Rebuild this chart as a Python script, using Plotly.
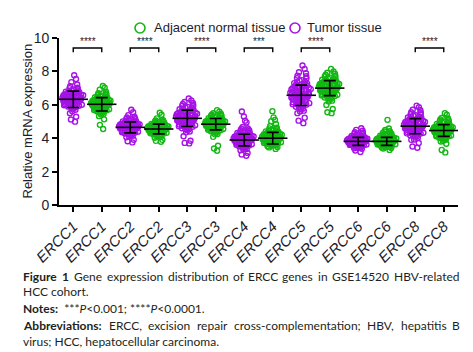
import plotly.graph_objects as go

genes = ["ERCC1", "ERCC2", "ERCC3", "ERCC4", "ERCC5", "ERCC6", "ERCC8"]
tick_labels = ["ERCC1", "ERCC1", "ERCC2", "ERCC2", "ERCC3", "ERCC3", "ERCC4", "ERCC4",
               "ERCC5", "ERCC5", "ERCC6", "ERCC6", "ERCC8", "ERCC8"]
groups = ["Tumor tissue", "Adjacent normal tissue"] * 7

ercc1_t = [4.99, 5.12, 5.28, 5.49, 5.61, 5.70, 5.77, 5.83, 5.89, 5.94, 5.98, 6.02, 6.07, 6.10, 6.14,
           6.18, 6.21, 6.25, 6.28, 6.31, 6.34, 6.38, 6.41, 6.43, 6.47, 6.50, 6.53, 6.57, 6.60, 6.64,
           6.68, 6.72, 6.77, 6.82, 6.88, 6.95, 7.02, 7.11, 7.22, 7.36, 7.55, 7.77,
           5.86, 5.90, 5.93, 5.97, 6.00, 6.03, 6.05, 6.08, 6.12, 6.15, 6.17, 6.20, 6.23, 6.26, 6.29,
           6.30, 6.32, 6.35, 6.37, 6.39, 6.42, 6.45, 6.46, 6.49, 6.52, 6.55, 6.58, 6.61, 6.63, 6.66,
           6.70, 6.74, 6.79, 6.85, 6.92, 7.00]
ercc1_n = [4.55, 4.80, 5.13, 5.32, 5.42, 5.49, 5.55, 5.61, 5.65, 5.69, 5.73, 5.77, 5.81, 5.84, 5.87,
           5.90, 5.93, 5.96, 5.99, 6.01, 6.04, 6.07, 6.09, 6.12, 6.15, 6.17, 6.20, 6.23, 6.26, 6.29,
           6.33, 6.37, 6.41, 6.45, 6.50, 6.55, 6.62, 6.69, 6.79, 6.91, 7.02, 7.13,
           5.45, 5.58, 5.63, 5.67, 5.71, 5.75, 5.79, 5.82, 5.86, 5.89, 5.92, 5.95, 5.97, 6.00, 6.02,
           6.03, 6.05, 6.06, 6.08, 6.10, 6.11, 6.13, 6.16, 6.18, 6.21, 6.24, 6.27, 6.30, 6.32, 6.35,
           6.39, 6.43, 6.48, 6.53, 6.60, 6.68]
ercc2_t = [3.75, 3.82, 3.91, 4.06, 4.15, 4.21, 4.26, 4.30, 4.34, 4.37, 4.41, 4.44, 4.47, 4.49, 4.52,
           4.54, 4.57, 4.59, 4.61, 4.64, 4.66, 4.68, 4.70, 4.72, 4.75, 4.77, 4.79, 4.82, 4.84, 4.87,
           4.90, 4.93, 4.96, 5.00, 5.04, 5.08, 5.14, 5.20, 5.28, 5.38, 5.55, 5.70,
           4.12, 4.20, 4.28, 4.32, 4.36, 4.39, 4.42, 4.45, 4.48, 4.50, 4.53, 4.55, 4.58, 4.60, 4.62,
           4.63, 4.65, 4.67, 4.69, 4.71, 4.73, 4.74, 4.76, 4.78, 4.80, 4.83, 4.85, 4.88, 4.91, 4.94,
           4.97, 5.01, 5.06, 5.11, 5.17, 5.24]
ercc2_n = [3.79, 3.84, 3.90, 4.03, 4.11, 4.16, 4.20, 4.24, 4.28, 4.31, 4.34, 4.36, 4.39, 4.41, 4.43,
           4.46, 4.48, 4.50, 4.52, 4.54, 4.56, 4.58, 4.60, 4.61, 4.63, 4.65, 4.67, 4.70, 4.72, 4.74,
           4.77, 4.79, 4.82, 4.85, 4.89, 4.93, 4.98, 5.03, 5.10, 5.19, 5.40, 5.52,
           4.08, 4.14, 4.22, 4.26, 4.29, 4.33, 4.35, 4.38, 4.40, 4.42, 4.44, 4.47, 4.49, 4.51, 4.53,
           4.55, 4.57, 4.59, 4.62, 4.64, 4.66, 4.68, 4.71, 4.73, 4.75, 4.78, 4.80, 4.83, 4.86, 4.90,
           4.95, 5.00, 5.06, 4.45, 4.57, 4.69]
ercc3_t = [3.69, 3.72, 3.85, 4.12, 4.35, 4.47, 4.56, 4.63, 4.69, 4.75, 4.80, 4.84, 4.89, 4.93, 4.97,
           5.01, 5.05, 5.08, 5.11, 5.15, 5.18, 5.21, 5.25, 5.28, 5.31, 5.34, 5.37, 5.41, 5.44, 5.48,
           5.52, 5.56, 5.60, 5.65, 5.70, 5.76, 5.83, 5.91, 6.00, 6.11, 6.26, 6.38,
           4.40, 4.52, 4.60, 4.67, 4.72, 4.77, 4.82, 4.87, 4.91, 4.95, 4.99, 5.03, 5.06, 5.10, 5.13,
           5.16, 5.20, 5.23, 5.26, 5.30, 5.33, 5.36, 5.39, 5.43, 5.46, 5.50, 5.54, 5.58, 5.62, 5.67,
           5.73, 5.80, 5.87, 5.95, 6.05, 6.17]
ercc3_n = [3.25, 3.38, 3.55, 4.08, 4.23, 4.32, 4.38, 4.44, 4.48, 4.52, 4.55, 4.59, 4.62, 4.65, 4.68,
           4.70, 4.73, 4.75, 4.78, 4.80, 4.83, 4.85, 4.87, 4.89, 4.91, 4.94, 4.96, 4.99, 5.01, 5.04,
           5.06, 5.10, 5.13, 5.16, 5.20, 5.24, 5.29, 5.34, 5.40, 5.49, 5.59, 5.68,
           4.25, 4.35, 4.42, 4.47, 4.51, 4.55, 4.58, 4.61, 4.64, 4.67, 4.70, 4.72, 4.74, 4.77, 4.79,
           4.81, 4.82, 4.84, 4.86, 4.88, 4.90, 4.92, 4.95, 4.97, 5.00, 5.02, 5.05, 5.08, 5.11, 5.15,
           5.19, 5.23, 5.28, 5.33, 5.39, 5.46]
ercc4_t = [2.95, 3.02, 3.12, 3.28, 3.36, 3.43, 3.48, 3.53, 3.57, 3.61, 3.64, 3.67, 3.70, 3.73, 3.76,
           3.79, 3.81, 3.84, 3.86, 3.89, 3.91, 3.94, 3.96, 3.98, 4.00, 4.03, 4.05, 4.08, 4.10, 4.13,
           4.16, 4.19, 4.23, 4.27, 4.31, 4.36, 4.41, 4.48, 4.57, 4.67, 4.95, 5.05, 5.30, 5.60,
           3.35, 3.45, 3.52, 3.57, 3.61, 3.65, 3.68, 3.71, 3.74, 3.77, 3.80, 3.82, 3.85, 3.87, 3.88,
           3.90, 3.92, 3.93, 3.95, 3.97, 3.99, 4.01, 4.04, 4.06, 4.09, 4.11, 4.14, 4.17, 4.21, 4.25,
           4.29, 4.34, 4.39, 4.45, 4.52, 4.60]
ercc4_n = [3.36, 3.45, 3.52, 3.57, 3.61, 3.65, 3.69, 3.72, 3.76, 3.79, 3.82, 3.84, 3.87, 3.89, 3.92,
           3.94, 3.96, 3.99, 4.01, 4.03, 4.05, 4.07, 4.10, 4.12, 4.14, 4.17, 4.19, 4.22, 4.25, 4.28,
           4.31, 4.35, 4.39, 4.43, 4.49, 4.55, 4.63, 4.73, 4.85, 5.02, 5.10, 5.25, 5.62,
           3.48, 3.55, 3.60, 3.64, 3.68, 3.71, 3.74, 3.77, 3.80, 3.83, 3.86, 3.88, 3.90, 3.93, 3.95,
           3.97, 3.99, 4.00, 4.02, 4.04, 4.06, 4.09, 4.11, 4.13, 4.16, 4.18, 4.21, 4.24, 4.27, 4.30,
           4.33, 4.37, 4.41, 4.46, 4.52, 4.59]
ercc5_t = [4.90, 5.05, 5.23, 5.50, 5.65, 5.77, 5.86, 5.93, 6.01, 6.07, 6.13, 6.18, 6.23, 6.28, 6.33,
           6.38, 6.42, 6.46, 6.50, 6.55, 6.59, 6.63, 6.67, 6.70, 6.74, 6.79, 6.83, 6.87, 6.92, 6.97,
           7.02, 7.07, 7.13, 7.20, 7.27, 7.36, 7.45, 7.57, 7.71, 7.89, 8.15, 8.35,
           5.60, 5.75, 5.88, 5.97, 6.04, 6.10, 6.16, 6.21, 6.26, 6.31, 6.35, 6.40, 6.44, 6.48, 6.52,
           6.56, 6.60, 6.64, 6.68, 6.72, 6.76, 6.80, 6.85, 6.89, 6.94, 6.99, 7.04, 7.10, 7.16, 7.23,
           7.30, 7.38, 7.48, 7.60, 7.75, 7.95]
ercc5_n = [5.50, 5.55, 5.75, 5.99, 6.20, 6.31, 6.40, 6.46, 6.52, 6.58, 6.62, 6.67, 6.71, 6.75, 6.78,
           6.82, 6.86, 6.89, 6.92, 6.95, 6.98, 7.01, 7.05, 7.07, 7.10, 7.13, 7.16, 7.19, 7.23, 7.26,
           7.30, 7.34, 7.38, 7.42, 7.47, 7.53, 7.59, 7.66, 7.75, 7.86, 7.99, 8.15,
           6.25, 6.36, 6.44, 6.50, 6.56, 6.60, 6.64, 6.69, 6.73, 6.77, 6.80, 6.84, 6.87, 6.90, 6.94,
           6.97, 7.00, 7.03, 7.06, 7.09, 7.12, 7.15, 7.18, 7.21, 7.25, 7.28, 7.32, 7.36, 7.40, 7.45,
           7.50, 7.56, 7.63, 7.71, 7.80, 7.92]
ercc6_t = [3.17, 3.26, 3.37, 3.43, 3.48, 3.51, 3.55, 3.57, 3.60, 3.62, 3.64, 3.67, 3.68, 3.70, 3.72,
           3.74, 3.76, 3.77, 3.79, 3.81, 3.82, 3.84, 3.85, 3.87, 3.89, 3.90, 3.92, 3.94, 3.96, 3.98,
           4.00, 4.03, 4.05, 4.08, 4.11, 4.15, 4.20, 4.26, 4.33, 4.45, 4.60,
           3.40, 3.46, 3.52, 3.56, 3.59, 3.62, 3.64, 3.66, 3.69, 3.71, 3.73, 3.75, 3.76, 3.78, 3.80,
           3.81, 3.83, 3.84, 3.86, 3.88, 3.89, 3.91, 3.93, 3.95, 3.97, 3.99, 4.01, 4.04, 4.07, 4.10,
           4.13, 4.17, 4.22, 4.28, 4.36, 4.50]
ercc6_n = [3.30, 3.38, 3.44, 3.48, 3.52, 3.55, 3.58, 3.60, 3.63, 3.65, 3.67, 3.69, 3.71, 3.72, 3.74,
           3.76, 3.78, 3.79, 3.81, 3.83, 3.84, 3.86, 3.87, 3.89, 3.91, 3.93, 3.94, 3.96, 3.99, 4.01,
           4.03, 4.06, 4.09, 4.12, 4.16, 4.21, 4.27, 4.35, 4.42, 4.50, 4.58, 5.10,
           3.41, 3.47, 3.51, 3.55, 3.59, 3.62, 3.64, 3.66, 3.68, 3.70, 3.72, 3.74, 3.75, 3.77, 3.79,
           3.80, 3.82, 3.84, 3.85, 3.87, 3.88, 3.90, 3.92, 3.94, 3.96, 3.98, 4.00, 4.02, 4.05, 4.08,
           4.11, 4.15, 4.19, 4.24, 4.31, 4.40]
ercc8_t = [3.43, 3.50, 3.71, 3.92, 4.03, 4.11, 4.18, 4.23, 4.29, 4.33, 4.37, 4.41, 4.45, 4.49, 4.52,
           4.56, 4.59, 4.62, 4.65, 4.68, 4.71, 4.74, 4.77, 4.80, 4.83, 4.86, 4.89, 4.92, 4.96, 4.99,
           5.03, 5.07, 5.11, 5.16, 5.21, 5.28, 5.35, 5.43, 5.54, 5.67, 5.85, 5.95,
           3.90, 4.05, 4.15, 4.22, 4.28, 4.33, 4.38, 4.42, 4.46, 4.50, 4.54, 4.57, 4.60, 4.63, 4.66,
           4.69, 4.72, 4.75, 4.78, 4.81, 4.84, 4.87, 4.90, 4.94, 4.97, 5.01, 5.05, 5.09, 5.13, 5.18,
           5.24, 5.30, 5.37, 5.45, 5.55, 5.70]
ercc8_n = [3.15, 3.30, 3.67, 3.83, 3.91, 3.98, 4.03, 4.08, 4.12, 4.16, 4.19, 4.22, 4.25, 4.28, 4.31,
           4.34, 4.36, 4.39, 4.41, 4.44, 4.46, 4.49, 4.51, 4.53, 4.55, 4.58, 4.60, 4.63, 4.65, 4.68,
           4.71, 4.74, 4.78, 4.82, 4.86, 4.91, 4.96, 5.03, 5.12, 5.22, 5.40, 5.50,
           3.80, 3.92, 4.00, 4.06, 4.11, 4.15, 4.19, 4.23, 4.26, 4.29, 4.32, 4.35, 4.37, 4.40, 4.42,
           4.44, 4.46, 4.48, 4.50, 4.52, 4.54, 4.57, 4.59, 4.62, 4.64, 4.67, 4.70, 4.73, 4.76, 4.80,
           4.84, 4.89, 4.94, 5.00, 5.08, 5.18]

series = [ercc1_t, ercc1_n, ercc2_t, ercc2_n, ercc3_t, ercc3_n, ercc4_t, ercc4_n,
          ercc5_t, ercc5_n, ercc6_t, ercc6_n, ercc8_t, ercc8_n]

means = [6.33, 6.03, 4.65, 4.55, 5.19, 4.84, 3.89, 4.00, 6.57, 7.00, 3.81, 3.81, 4.72, 4.46]
sds = [0.49, 0.40, 0.33, 0.29, 0.49, 0.34, 0.35, 0.35, 0.61, 0.45, 0.24, 0.24, 0.45, 0.35]

sig_labels = ["****", "****", "****", "***", "****", "", "****"]
legend_order = ["Adjacent normal tissue", "Tumor tissue"]

colors = {"Tumor tissue": "#A612E6", "Adjacent normal tissue": "#12B812"}
TEXT = "#1c1c2c"
FONT = "Liberation Sans, Arial"

# plot-area geometry (pixels)
W, H = 473, 352
PL, PR, PT, PB = 59, 15, 38, 147
PW, PH = W - PL - PR, H - PT - PB


def px_x(x):
    return (x - PL) / PW


def px_y(y):
    return (PT + PH - y) / PH


fig = go.Figure()
positions = list(range(len(series)))

for pos, vals, grp in zip(positions, series, groups):
    fig.add_trace(go.Box(
        x=[pos] * len(vals), y=vals, name=grp, showlegend=False,
        boxpoints="all", jitter=1.0, pointpos=0, width=0.8,
        fillcolor="rgba(0,0,0,0)", line=dict(color="rgba(0,0,0,0)", width=0),
        marker=dict(symbol="circle-open", size=5, color=colors[grp],
                    line=dict(width=1.4, color=colors[grp])),
        hoverinfo="y",
    ))

# mean +/- SD
fig.add_trace(go.Scatter(
    x=positions, y=means, mode="markers", showlegend=False,
    marker=dict(symbol="line-ew", size=21, line=dict(width=1.6, color="black")),
    error_y=dict(type="data", array=sds, visible=True, color="black", thickness=1.6, width=6),
))

# significance brackets
bracket_top = 9.4
bracket_drop = 0.25
for gi, lab in enumerate(sig_labels):
    if not lab:
        continue
    a, b = positions[2 * gi], positions[2 * gi + 1]
    fig.add_trace(go.Scatter(
        x=[a, a, b, b], y=[bracket_top - bracket_drop, bracket_top, bracket_top, bracket_top - bracket_drop],
        mode="lines", line=dict(color="black", width=1.4), showlegend=False, hoverinfo="skip"))
    fig.add_annotation(x=(a + b) / 2, y=bracket_top + 0.38, xref="x", yref="y", text=lab,
                       showarrow=False, yanchor="middle",
                       font=dict(size=10, color=TEXT, family=FONT))

# custom legend (open circles + labels)
legend_pos = {"Adjacent normal tissue": (140, 152), "Tumor tissue": (295, 305)}
legend_y = 28
for grp in legend_order:
    cx, tx = legend_pos[grp]
    fig.add_shape(type="circle", xref="paper", yref="paper",
                  xsizemode="pixel", ysizemode="pixel",
                  xanchor=px_x(cx), yanchor=px_y(legend_y), x0=-5, x1=5, y0=-5, y1=5,
                  line=dict(color=colors[grp], width=1.6), fillcolor="rgba(0,0,0,0)")
    fig.add_annotation(text=grp, xref="paper", yref="paper", x=px_x(tx), y=px_y(legend_y),
                       xanchor="left", yanchor="middle", showarrow=False,
                       font=dict(size=13, color=TEXT, family=FONT))

# y-axis title
fig.add_annotation(text="Relative mRNA expression", xref="paper", yref="paper",
                   x=px_x(27), y=0.5, xanchor="center", yanchor="middle", textangle=-90,
                   showarrow=False, font=dict(size=13, color=TEXT, family=FONT))

fig.update_layout(
    width=W, height=H, template="none",
    margin=dict(l=PL, r=PR, t=PT, b=PB),
    paper_bgcolor="white", plot_bgcolor="white",
    font=dict(family=FONT, color=TEXT, size=13),
    showlegend=False,
    xaxis=dict(range=[-0.5, 13.5], tickmode="array", tickvals=positions,
               ticktext=["<i>%s</i>" % t for t in tick_labels], tickangle=-45,
               showline=True, linecolor="black", linewidth=1.6, ticks="outside",
               ticklen=5, tickwidth=1.6, tickcolor="black", showgrid=False, zeroline=False,
               tickfont=dict(size=15, color=TEXT), automargin=False),
    yaxis=dict(range=[0, 10], tickmode="linear", tick0=0, dtick=2,
               showline=True, linecolor="black", linewidth=1.6, ticks="outside",
               ticklen=5, tickwidth=1.6, tickcolor="black", showgrid=False, zeroline=False,
               tickfont=dict(size=14, color=TEXT), automargin=False),
)

# ---------------- caption (justified lines laid out word by word) ----------------
cap_font = "Lato, Open Sans, sans-serif"
CAP_SIZE = 12
CAP_COLOR = "#231f20"
CAP_LEFT, CAP_RIGHT = 21, 458
WIDTH_SCALE = 1.0
MIN_GAP = 3.5

# approximate Lato advance widths (em)
_w = {c: 0.52 for c in "abcdeghknopquvxyz"}
_w.update({"a": 0.51, "c": 0.46, "e": 0.53, "f": 0.32, "i": 0.24, "j": 0.24, "l": 0.24,
           "m": 0.84, "r": 0.36, "s": 0.43, "t": 0.35, "w": 0.77, "z": 0.46,
           "b": 0.56, "d": 0.56, "h": 0.56, "n": 0.56, "o": 0.56, "p": 0.56, "q": 0.56, "u": 0.56})
_w.update({c: 0.66 for c in "ABCDEFGHIJKLMNOPQRSTUVWXYZ"})
_w.update({"E": 0.55, "F": 0.53, "I": 0.29, "H": 0.75, "B": 0.64, "S": 0.52, "V": 0.68,
           "G": 0.72, "C": 0.66, "R": 0.62})
_w.update({c: 0.60 for c in "0123456789"})
_w.update({".": 0.23, ",": 0.22, ";": 0.25, ":": 0.25, "-": 0.35})


def word_width(word, bold=False):
    return sum(_w.get(ch, 0.52) for ch in word) * CAP_SIZE * WIDTH_SCALE * (1.05 if bold else 1.0)


def add_text(txt, x_px, y_px, anchor="left"):
    fig.add_annotation(text=txt, xref="paper", yref="paper", x=px_x(x_px), y=px_y(y_px),
                       xanchor=anchor, yanchor="middle", showarrow=False, align="left",
                       font=dict(family=cap_font, size=CAP_SIZE, color=CAP_COLOR))


def add_justified(words, y_px):
    widths = [word_width(w, b) for w, b in words]
    gap = max(MIN_GAP, (CAP_RIGHT - CAP_LEFT - sum(widths)) / (len(words) - 1))
    x = CAP_LEFT
    for (w, b), wd in zip(words, widths):
        txt = "<b>%s</b>" % w if b else w
        add_text(txt, x, y_px)
        x += wd + gap


line1 = [("Figure", True), ("1", True), ("Gene", False), ("expression", False),
         ("distribution", False), ("of", False), ("ERCC", False), ("genes", False),
         ("in", False), ("GSE14520", False), ("HBV-related", False)]
line4 = [("Abbreviations:", True), ("ERCC,", False), ("excision", False), ("repair", False),
         ("cross-complementation;", False), ("HBV,", False), ("hepatitis", False), ("B", False)]

add_justified(line1, 276)
add_text("HCC cohort.", CAP_LEFT, 291)
add_text("<b>Notes:</b>\u00a0 ***<i>P</i>&lt;0.001; ****<i>P</i>&lt;0.0001.", CAP_LEFT, 308)
add_justified(line4, 325)
add_text("virus; HCC, hepatocellular carcinoma.", CAP_LEFT, 341)

fig.write_html("out.html")
